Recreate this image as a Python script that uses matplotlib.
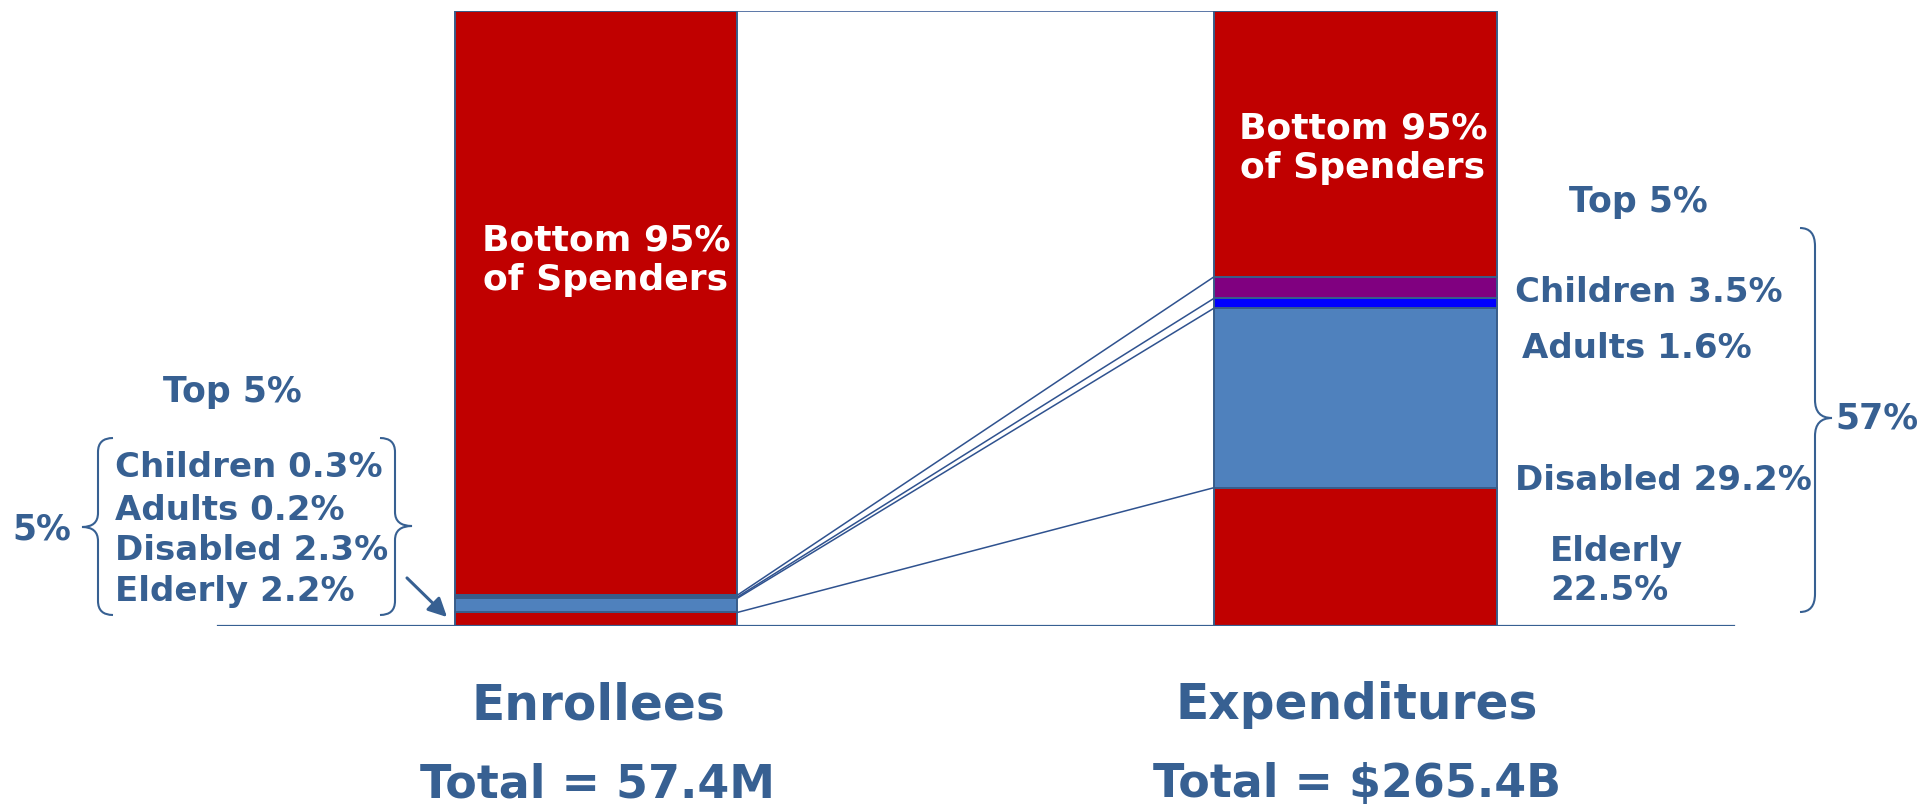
import matplotlib
matplotlib.use("Agg")
import matplotlib.pyplot as plt
from matplotlib.path import Path
from matplotlib.patches import PathPatch

# === data ===
bars = ["Enrollees", "Expenditures"]
segments = ["Elderly", "Disabled", "Adults", "Children", "Bottom 95%"]
enrollees = [2.2, 2.3, 0.2, 0.3, 95.0]
expenditures = [22.5, 29.2, 1.6, 3.5, 43.2]
totals = ["57.4M", "$265.4B"]
seg_colors = ["#C00000", "#4F81BD", "#0000FF", "#800080", "#C00000"]

TXT = "#376092"
EDGE = "#385D8A"
FONT = "DejaVu Sans"

W, H = 1920, 809
fig = plt.figure(figsize=(W / 100, H / 100), dpi=100)

# main axes: bars drawn in percent units
ax = fig.add_axes([0, (H - 626) / H, 1, (626 - 11) / H])
ax.set_xlim(-0.7847, 1.7433)
ax.set_ylim(0, 100)
ax.axis("off")
width = 0.372

for i, vals in enumerate([enrollees, expenditures]):
    bottom = 0
    for v, c in zip(vals, seg_colors):
        ax.bar(i, v, width, bottom=bottom, color=c, edgecolor=EDGE, linewidth=1.4, zorder=2)
        bottom += v

# connectors between the two bars
cum_l, cum_r = 0, 0
for k in range(len(segments)):
    cum_l += enrollees[k]
    cum_r += expenditures[k]
    ax.plot([width / 2, 1 - width / 2], [cum_l, cum_r], color="#2F528F", lw=1.1, zorder=1)

ax.axhline(0, xmin=218 / W, xmax=1734 / W, color=TXT, lw=1.6, zorder=3)

# overlay axes in pixel coords for annotations
ov = fig.add_axes([0, 0, 1, 1])
ov.set_xlim(0, W)
ov.set_ylim(H, 0)
ov.axis("off")


def brace(x0, xm, xt, y0, y1, ym, r=14):
    verts = [(x0, y0), (xm, y0), (xm, y0 + r),
             (xm, ym - r), (xm, ym), (xt, ym),
             (xm, ym), (xm, ym + r),
             (xm, y1 - r), (xm, y1), (x0, y1)]
    codes = [Path.MOVETO, Path.CURVE3, Path.CURVE3,
             Path.LINETO, Path.CURVE3, Path.CURVE3,
             Path.CURVE3, Path.CURVE3,
             Path.LINETO, Path.CURVE3, Path.CURVE3]
    ov.add_patch(PathPatch(Path(verts, codes), fill=False, edgecolor=TXT, lw=1.5))


def label(x, y, s, size=24.5, ha="left", color=TXT):
    ov.text(x, y, s, ha=ha, va="center", fontsize=size, fontweight="bold",
            color=color, family=FONT, linespacing=1.2)


# white labels inside the bars
label(606, 260, "Bottom 95%\nof Spenders", size=26, ha="center", color="white")
label(1363, 148, "Bottom 95%\nof Spenders", size=26, ha="center", color="white")

# left side: top 5% of enrollees
top_left = sum(enrollees[:4])
top_right = sum(expenditures[:4])
label(232, 392, "Top 5%", size=25, ha="center")
left_y = {"Children": 467, "Adults": 510, "Disabled": 551, "Elderly": 591}
for name, v in zip(segments[:4], enrollees[:4]):
    label(115, left_y[name], f"{name} {v}%")
label(42, 530, f"{top_left:.0f}%", size=25, ha="center")
brace(113, 98, 82, 438, 615, 527)
brace(380, 395, 412, 438, 615, 526)
ov.annotate("", xy=(449, 619), xytext=(405, 576),
            arrowprops=dict(arrowstyle="-|>", color=TXT, lw=2.2, mutation_scale=28))

# right side: top 5% of spenders
label(1638, 202, "Top 5%", size=25, ha="center")
label(1515, 293, f"{segments[3]} {expenditures[3]}%")
label(1522, 348, f"{segments[2]} {expenditures[2]}%")
label(1515, 480, f"{segments[1]} {expenditures[1]}%")
label(1550, 571, f"{segments[0]}\n{expenditures[0]}%")
brace(1800, 1815, 1832, 228, 612, 418, r=18)
label(1835, 418, f"{top_right:.0f}%", size=25)

# bar titles and totals
for cx, name, tot in zip([598, 1357], bars, totals):
    label(cx, 705, name, size=35, ha="center")
    label(cx, 785, f"Total = {tot}", size=33, ha="center")

fig.savefig("out.png", dpi=100)
